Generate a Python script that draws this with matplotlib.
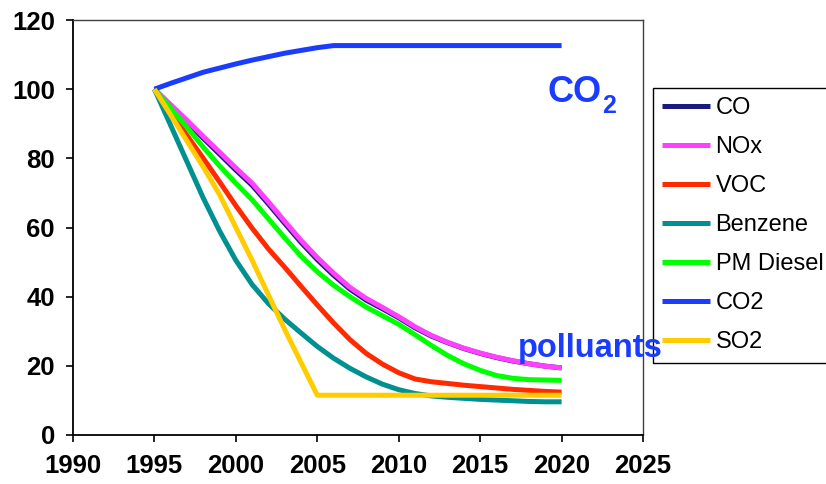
import matplotlib
matplotlib.use("Agg")
import matplotlib.pyplot as plt

plt.rcParams['font.family'] = ['Liberation Sans', 'DejaVu Sans']

years = list(range(1995, 2021))

co = [100, 95.0, 90.5, 85.8, 81.2, 76.6, 72.2, 66.8, 61.2, 55.7, 50.7, 46.2, 42.2,
      39.0, 36.5, 33.9, 31.0, 28.6, 26.7, 25.0, 23.6, 22.4, 21.4, 20.6, 19.9, 19.4]
nox = [100, 95.5, 91, 86.3, 81.8, 77.2, 72.8, 67.4, 61.8, 56.3, 51.3, 46.8, 42.7,
       39.5, 36.9, 34.2, 31.3, 28.8, 26.8, 25.1, 23.7, 22.5, 21.5, 20.6, 19.9, 19.4]
voc = [100, 93.3, 86.6, 80, 73.2, 66.3, 59.8, 53.8, 48.5, 43, 37.6, 32.4, 27.6,
       23.6, 20.5, 18, 16.2, 15.4, 14.9, 14.4, 14, 13.6, 13.2, 12.9, 12.6, 12.4]
benzene = [100, 89.5, 79, 68.5, 59, 50.5, 43.5, 38, 33.5, 29.5, 25.6, 22.2, 19.3,
           16.8, 14.7, 13.1, 12, 11.3, 10.9, 10.6, 10.3, 10.1, 9.9, 9.7, 9.6, 9.6]
pm_diesel = [100, 94.5, 89, 83.2, 77.8, 72.8, 68, 62.5, 57, 51.7, 47.2, 43.3, 40,
             37, 34.5, 32, 29, 25.9, 23, 20.6, 18.7, 17.2, 16.4, 16, 15.9, 15.8]
co2 = [100, 101.7, 103.3, 104.9, 106.1, 107.3, 108.4, 109.4, 110.4, 111.2, 112,
       112.6, 112.6, 112.6, 112.6, 112.6, 112.6, 112.6, 112.6, 112.6, 112.6,
       112.6, 112.6, 112.6, 112.6, 112.6]
so2 = [100, 92.5, 85, 77.5, 69.5, 60, 50.5, 40.5, 30.5, 21, 11.5, 11.5, 11.5,
       11.5, 11.5, 11.5, 11.5, 11.5, 11.5, 11.5, 11.5, 11.5, 11.5, 11.5, 11.5, 11.5]

series = [
    ("CO", co, "#1a1a80"),
    ("NOx", nox, "#ff40ff"),
    ("VOC", voc, "#ff2a00"),
    ("Benzene", benzene, "#009090"),
    ("PM Diesel", pm_diesel, "#00ff00"),
    ("CO2", co2, "#1a3cff"),
    ("SO2", so2, "#ffcc00"),
]

fig = plt.figure(figsize=(8.26, 4.84), dpi=100)
ax = fig.add_axes([73 / 826, 1 - 435 / 484, (643 - 73) / 826, (435 - 20) / 484])

for name, vals, color in series:
    ax.plot(years, vals, color=color, lw=3.6, label=name, solid_capstyle='butt')

ax.set_xlim(1990, 2025)
ax.set_ylim(0, 120)
ax.set_xticks(range(1990, 2026, 5))
ax.set_yticks(range(0, 121, 20))
ax.tick_params(axis='both', direction='out', length=5, width=1.2, labelsize=18.5)
ax.tick_params(axis='x', pad=9)
ax.tick_params(axis='y', pad=8)
for lbl in ax.get_xticklabels() + ax.get_yticklabels():
    lbl.set_fontweight('bold')

for side in ('left', 'bottom'):
    ax.spines[side].set_color('black')
    ax.spines[side].set_linewidth(1.3)
for side in ('top', 'right'):
    ax.spines[side].set_color('#404040')
    ax.spines[side].set_linewidth(1.0)

leg = ax.legend(loc='upper left', bbox_to_anchor=(653 / 826, 1 - 88 / 484),
                bbox_transform=fig.transFigure, fontsize=17, frameon=True,
                fancybox=False, edgecolor='black', framealpha=1,
                handlelength=2.0, handletextpad=0.25, labelspacing=0.72,
                borderpad=0.4, borderaxespad=0)
leg.get_frame().set_linewidth(1.0)
for line in leg.get_lines():
    line.set_linewidth(3.6)

blue = "#1a3cff"
ax.text(2019.16, 96.3, "CO", color=blue, fontsize=26, fontweight='bold',
        ha='left', va='baseline')
ax.text(2022.5, 93.1, "2", color=blue, fontsize=18, fontweight='bold',
        ha='left', va='baseline')
ax.text(2017.3, 22.6, "polluants", color=blue, fontsize=23.5, fontweight='bold',
        ha='left', va='baseline', zorder=10, clip_on=False)

fig.savefig("out.png", dpi=100)
